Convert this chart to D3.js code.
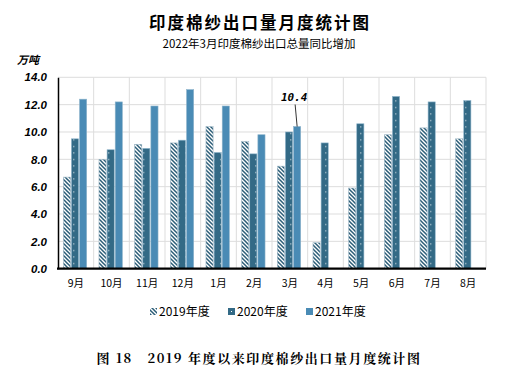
<!DOCTYPE html>
<html><head><meta charset="utf-8">
<script src="https://cdn.jsdelivr.net/npm/d3@7"></script>
<style>body{margin:0;background:#fff}svg{display:block}</style>
</head><body><svg id="c" width="507" height="381"></svg>
<script>
const months = ["9月","10月","11月","12月","1月","2月","3月","4月","5月","6月","7月","8月"];
const seriesNames = ["2019年度","2020年度","2021年度"];
const v2019 = [6.7,8.0,9.1,9.2,10.4,9.3,7.5,1.9,5.9,9.8,10.3,9.5];
const v2020 = [9.5,8.7,8.8,9.4,8.5,8.4,10.0,9.2,10.6,12.6,12.2,12.3];
const v2021 = [12.4,12.2,11.9,13.1,11.9,9.8,10.4,null,null,null,null,null];
const yTicks = [0,2,4,6,8,10,12,14];
const title = "印度棉纱出口量月度统计图";
const subtitle = "2022年3月印度棉纱出口总量同比增加";
const unit = "万吨";
const caption = "图 18　2019 年度以来印度棉纱出口量月度统计图";
const annot = {month:"3月", value:10.4, label:"10.4"};

const svg = d3.select("#c");
const m = {l:58, r:486, t:77.3, b:268.7};
const x = d3.scaleBand().domain(months).range([m.l,m.r]).paddingInner(0).paddingOuter(0);
const y = d3.scaleLinear().domain([0,14]).range([m.b,m.t]);
const sub = d3.scaleBand().domain(seriesNames).range([5.3, 5.3+23.4]).paddingInner(0.12);

const defs = svg.append("defs");
const hatch = defs.append("pattern").attr("id","hatch").attr("patternUnits","userSpaceOnUse")
  .attr("width",4).attr("height",4);
hatch.append("rect").attr("width",4).attr("height",4).attr("fill","#fff");
hatch.append("path").attr("d","M-1,-1 L5,5 M-1,3 L1,5 M3,-1 L5,1").attr("stroke","#2b5d77").attr("stroke-width",1.5);
const dots = defs.append("pattern").attr("id","dots").attr("patternUnits","userSpaceOnUse")
  .attr("width",7).attr("height",6.5).attr("x",0).attr("y",0);
dots.append("rect").attr("width",7).attr("height",6.5).attr("fill","#336a86");
dots.append("rect").attr("x",3.3).attr("y",3).attr("width",1).attr("height",1).attr("fill","#fff");
const fills = ["url(#hatch)","url(#dots)","#4a8bb5"];
const legendFills = ["url(#hatch)","#336a86","#4a8bb5"];

// grid
const g = svg.append("g");
g.selectAll(".hg").data(yTicks.slice(1)).join("line")
  .attr("x1",m.l).attr("x2",m.r).attr("y1",d=>y(d)).attr("y2",d=>y(d))
  .attr("stroke","#dddddd").attr("stroke-width",1);
g.selectAll(".vg").data(months.slice(1).concat(["end"])).join("line")
  .attr("x1",(d,i)=> i<11 ? x(d) : m.r).attr("x2",(d,i)=> i<11 ? x(d) : m.r)
  .attr("y1",m.t).attr("y2",m.b).attr("stroke","#dddddd");

// bars
const allSeries = [v2019,v2020,v2021];
allSeries.forEach((vals,si)=>{
  svg.append("g").selectAll("rect").data(months.map((mo,i)=>({mo,v:vals[i]})).filter(d=>d.v!=null))
    .join("rect")
    .attr("x",d=>x(d.mo)+sub(seriesNames[si]))
    .attr("width",sub.bandwidth())
    .attr("y",d=>y(d.v)).attr("height",d=>y(0)-y(d.v))
    .attr("fill",fills[si])
    .attr("stroke", si===0 ? "#9fb8c6" : "#8fb5cc").attr("stroke-width",0.6);
});

// axes
const yAxis = d3.axisLeft(y).tickValues(yTicks).tickSize(0).tickFormat(d3.format(".1f"));
const ya = svg.append("g").attr("transform",`translate(${m.l},0)`).call(yAxis);
ya.select(".domain").attr("stroke","#000").attr("stroke-width",1.5);
ya.selectAll("text").attr("x",-11).attr("font-family","Liberation Sans, Arial, sans-serif")
  .attr("font-size",11.5).attr("font-weight","bold").attr("font-style","italic").attr("fill","#000");
const xAxis = d3.axisBottom(x).tickSize(0);
const xa = svg.append("g").attr("transform",`translate(0,${m.b})`).call(xAxis);
xa.select(".domain").attr("stroke","#000").attr("stroke-width",2.2).attr("d",`M${m.l-1},0H${m.r}`);
xa.selectAll("text").attr("y",11).attr("font-family","Noto Sans CJK SC, sans-serif")
  .attr("font-size",10.5).attr("fill","#000");

// annotation
const ax = x(annot.month)+sub(seriesNames[2])+sub.bandwidth()/2;
svg.append("line").attr("x1",ax-2).attr("y1",y(annot.value)-22).attr("x2",ax).attr("y2",y(annot.value))
  .attr("stroke","#000").attr("stroke-width",0.8);
svg.append("text").attr("x",ax-3).attr("y",y(annot.value)-26).attr("text-anchor","middle")
  .attr("font-family","DejaVu Sans Mono, monospace").attr("font-size",11).attr("font-weight","bold")
  .attr("font-style","italic").text(annot.label);

// titles
svg.append("text").attr("x",260).attr("y",29).attr("text-anchor","middle")
  .attr("font-family","Noto Sans CJK SC, sans-serif").attr("font-size",16.5).attr("font-weight","bold")
  .attr("letter-spacing",2).text(title);
svg.append("text").attr("x",259).attr("y",48).attr("text-anchor","middle")
  .attr("font-family","Noto Sans CJK SC, sans-serif").attr("font-size",11.5).text(subtitle);
svg.append("text").attr("x",17).attr("y",64)
  .attr("font-family","Noto Sans CJK SC, sans-serif").attr("font-size",11).attr("font-weight","bold")
  .attr("font-style","italic").text(unit);

// legend
const legX = [150, 228, 306];
const lg = svg.append("g");
seriesNames.forEach((s,i)=>{
  lg.append("rect").attr("x",legX[i]).attr("y",308).attr("width",7).attr("height",7).attr("fill",legendFills[i]);
  if(i===1) lg.append("rect").attr("x",legX[i]+3).attr("y",311).attr("width",1).attr("height",1).attr("fill","#fff");
  lg.append("text").attr("x",legX[i]+9).attr("y",316).attr("font-family","Noto Sans CJK SC, sans-serif")
    .attr("font-size",12).attr("fill","#000").text(s);
});

// caption
svg.append("text").attr("x",259).attr("y",363).attr("text-anchor","middle")
  .attr("font-family","Noto Serif CJK SC, Noto Sans CJK SC, serif").attr("font-size",13).attr("font-weight","bold")
  .attr("letter-spacing",1.6).attr("xml:space","preserve").text(caption);
</script></body></html>
